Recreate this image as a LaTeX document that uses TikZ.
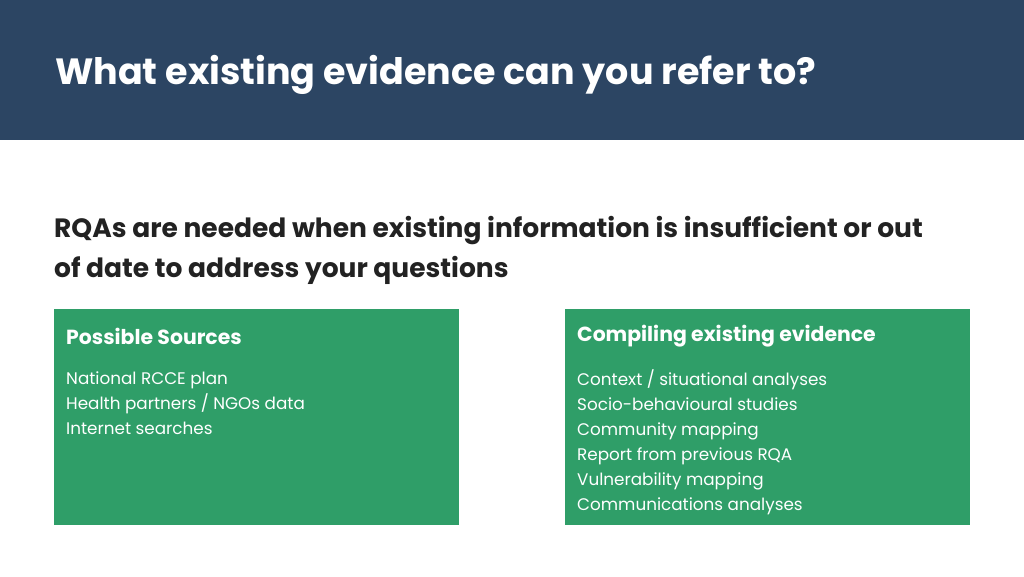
\documentclass[tikz,border=0pt]{standalone}
\usepackage{fontspec}
\setmainfont{Poppins}
\usetikzlibrary{positioning}
\definecolor{headblue}{HTML}{2C4563}
\definecolor{boxgreen}{HTML}{2F9E68}
\definecolor{darktext}{HTML}{222222}
\tikzset{font=\fontsize{17}{25}\selectfont}
\tikzstyle{panel}=[fill=boxgreen,draw=none]
\tikzstyle{paneltitle}=[anchor=west,text=white,font=\fontsize{20.4}{24}\bfseries\selectfont,inner sep=0pt]
\tikzstyle{panelitems}=[anchor=north west,text=white,align=left,font=\fontsize{16.8}{25}\selectfont,inner sep=0pt]
\begin{document}
\begin{tikzpicture}[x=1pt,y=-1pt]
\useasboundingbox (0,0) rectangle (1024,576);
\fill[headblue] (0,0) rectangle (1024,140);
\node (title) [anchor=west,text=white,inner sep=0pt,font=\fontsize{36.5}{40}\bfseries\selectfont] at (55,75) {What existing evidence can you refer to?};
\node (sub) [anchor=north west,text=darktext,align=left,inner sep=0pt,font=\fontsize{26.5}{40}\bfseries\selectfont] at (54,216) {RQAs are needed when existing information is insufficient or out\\of date to address your questions};
\fill[panel] (54,309) rectangle (459,525);
\fill[panel] (565,309) rectangle (970,525);
\node (srct) [paneltitle] at (66,336) {Possible Sources};
\node (srcl) [panelitems] at (66,372) {National RCCE plan\\Health partners / NGOs data\\Internet searches};
\node (cmpt) [paneltitle] at (577,336) {Compiling existing evidence};
\node (cmpl) [panelitems] at (577,369) {Context / situational analyses\\Socio-behavioural studies\\Community mapping\\Report from previous RQA\\Vulnerability mapping\\Communications analyses};
\end{tikzpicture}
\end{document}
